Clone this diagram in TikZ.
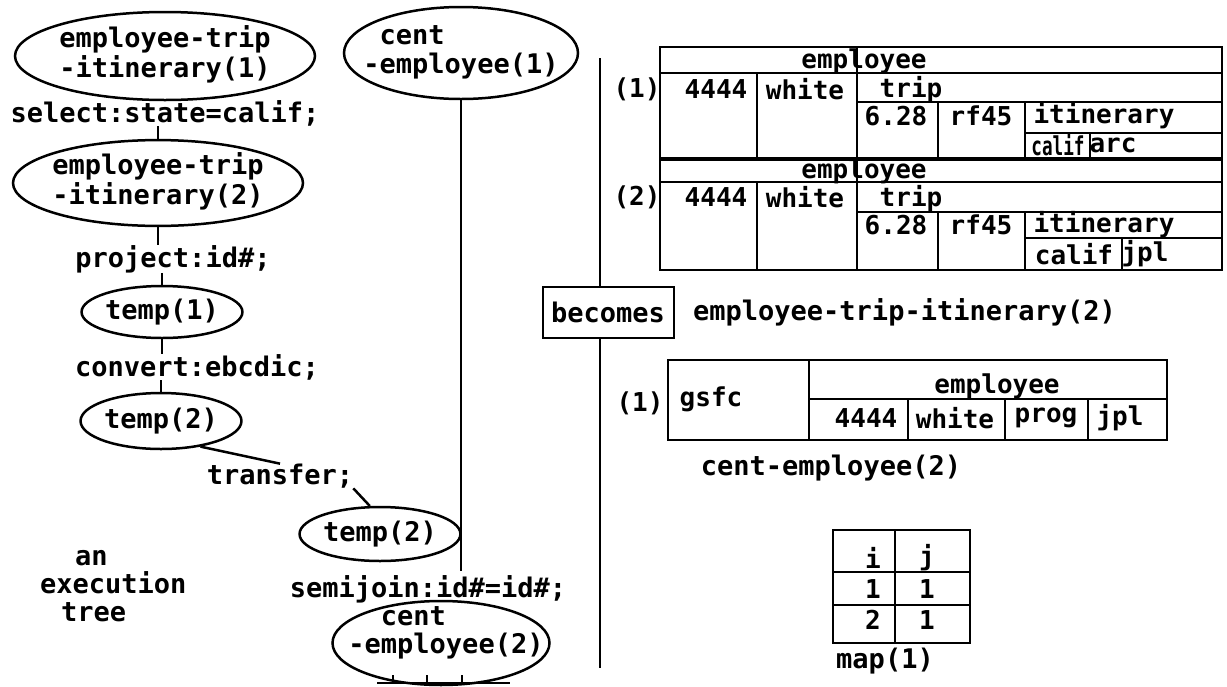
\documentclass[tikz,border=0pt]{standalone}
\usepackage{fontspec}
\setmonofont{DejaVu Sans Mono}
\usetikzlibrary{shapes.geometric,calc}
\newcommand{\zbox}[1]{\makebox[0pt]{\begin{tabular}{@{}l@{}}#1\end{tabular}}}
\begin{document}
\begin{tikzpicture}[x=1pt,y=-1pt,
  every node/.style={font=\ttfamily\bfseries\fontsize{27}{28}\selectfont, inner sep=0pt},
  ell/.style={draw, ellipse, line width=2.5pt, inner sep=0pt},
  ln/.style={line width=2.5pt},
  tl/.style={line width=2pt},
  tt/.style={font=\ttfamily\bfseries\fontsize{26}{27}\selectfont}]
\useasboundingbox[fill=white] (0,0) rectangle (1227,686);

% ---- execution tree ----
\node[ell, minimum width=300pt, minimum height=88pt] (e1) at (165,56) {\zbox{employee-trip\\-itinerary(1)}};
\node (sel) at (165,113) {select:state=calif;};
\node[ell, minimum width=290pt, minimum height=80pt] (e2) at (158,183) {\zbox{employee-trip\\-itinerary(2)}};
\node (proj) at (173,259) {project:id\#;};
\node[ell, minimum width=136pt, minimum height=52pt] (t1) at (162,312) {temp(1)};
\node (conv) at (197,367) {convert:ebcdic;};
\node[ell, minimum width=138pt, minimum height=56pt] (t2) at (161,421) {temp(2)};
\node (tr) at (280,476) {transfer;};
\node[ell, minimum width=136pt, minimum height=54pt] (tb) at (380,534) {temp(2)};
\node[align=left, anchor=north west] (exe) at (40,550) {\hspace*{35pt}an\\execution\\\hspace*{21pt}tree};
\node (semi) at (428,589) {semijoin:id\#=id\#;};
\node[ell, minimum width=234pt, minimum height=92pt] (c1) at (461,53) {\zbox{\phantom{-}cent\\-employee(1)}};
\node[ell, minimum width=217pt, minimum height=84pt] (c2) at (441,643) {};
\node[align=left] (c2t) at (446,633) {\phantom{-e}cent\\-employee(2)};

\draw[ln] (e1.south) -- (sel.north -| e1.south);
\draw[ln] (sel.south -| e2.north) -- (e2.north);
\draw[ln] (e2.south) -- (proj.north -| e2.south);
\draw[ln] (proj.south -| t1.north) -- (t1.north);
\draw[ln] (t1.south) -- (conv.north -| t1.south);
\draw[ln] (conv.south -| t2.north) -- (t2.north);
\draw[ln] (t2.-33) -- (tr.north);
\draw[ln] (tr.south east) -- (tb.110);
\draw[ln, shorten >=4pt] (c1.south) -- (semi.north -| c1.south);
% cut-off bottom of cent-employee(2)
\coordinate (cbl) at (377,683);
\coordinate (cbr) at (510,683);
\draw[ln] (cbl) -- (cbr);
\foreach \x in {393,427,462} \draw[ln] (\x,683) -- (\x,675);

% ---- divider and becomes ----
\node[draw, line width=2pt, minimum width=131pt, minimum height=51pt] (bec) at (608,312) {becomes};
\coordinate (dtop) at (600,58);
\coordinate (dbot) at (600,668);
\draw[ln] (dtop) -- (dtop |- bec.north);
\draw[ln] (dtop |- bec.south) -- (dbot);
\node[anchor=west] (eti2) at (693,312) {employee-trip-itinerary(2)};

% ---- top table ----
\draw[tl] (660,47) rectangle (1222,270);
% record 1
\draw[tl] (660,73) -- (1222,73);
\draw[tl] (857,47) -- (857,157);
\draw[tl] (757,73) -- (757,157);
\draw[tl] (857,102) -- (1222,102);
\draw[tl] (938,102) -- (938,157);
\draw[tl] (1025,102) -- (1025,157);
\draw[tl] (1025,133) -- (1222,133);
\draw[tl] (1090,133) -- (1090,157);
\draw[line width=4pt] (660,158.5) -- (1222,158.5);
% record 2
\draw[tl] (660,182) -- (1222,182);
\draw[tl] (857,160) -- (857,270);
\draw[tl] (757,182) -- (757,270);
\draw[tl] (857,212) -- (1222,212);
\draw[tl] (938,212) -- (938,270);
\draw[tl] (1025,212) -- (1025,270);
\draw[tl] (1025,238) -- (1222,238);
\draw[tl] (1122,238) -- (1122,270);

\node[tt] (h1) at (864,61) {employee};
\node[tt] (r1) at (637,89) {(1)};
\node[tt] (a1) at (716,89) {4444};
\node[tt] (w1) at (805,89) {white};
\node[tt] (tp1) at (911,90) {trip};
\node[tt] (d1) at (896,116) {6.28};
\node[tt] (f1) at (981,116) {rf45};
\node[tt] (it1) at (1104,116) {itinerary};
\node[tt, xscale=0.68] (ca1) at (1058,145) {calif};
\node[tt] (ar1) at (1113,145) {arc};

\node[tt] (h2) at (864,171) {employee};
\node[tt] (r2) at (637,197) {(2)};
\node[tt] (a2) at (716,197) {4444};
\node[tt] (w2) at (805,197) {white};
\node[tt] (tp2) at (911,199) {trip};
\node[tt] (d2) at (896,225) {6.28};
\node[tt] (f2) at (981,225) {rf45};
\node[tt] (it2) at (1104,225) {itinerary};
\node[tt] (ca2) at (1074,254) {calif};
\node[tt] (jp2) at (1145,254) {jpl};

% ---- bottom table ----
\draw[tl] (668,360) rectangle (1167,440);
\draw[tl] (809,360) -- (809,440);
\draw[tl] (809,399) -- (1167,399);
\draw[tl] (908,399) -- (908,440);
\draw[tl] (1005,399) -- (1005,440);
\draw[tl] (1088,399) -- (1088,440);
\node[tt] (r3) at (640,403) {(1)};
\node[tt] (gs) at (711,399) {gsfc};
\node[tt] (h3) at (997,386) {employee};
\node[tt] (a3) at (866,418) {4444};
\node[tt] (w3) at (955,418) {white};
\node[tt] (pg3) at (1046,418) {prog};
\node[tt] (jp3) at (1120,418) {jpl};
\node (ce2) at (831,468) {cent-employee(2)};

% ---- map ----
\draw[tl] (833,530) rectangle (970,643);
\draw[tl] (895,530) -- (895,643);
\draw[tl] (833,572) -- (970,572);
\draw[tl] (833,605) -- (970,605);
\node[tt] (m11) at (873,558) {i};
\node[tt] (m12) at (927,558) {j};
\node[tt] (m21) at (873,589) {1};
\node[tt] (m22) at (927,589) {1};
\node[tt] (m31) at (873,620) {2};
\node[tt] (m32) at (927,620) {1};
\node (mp) at (885,661) {map(1)};
\end{tikzpicture}
\end{document}
